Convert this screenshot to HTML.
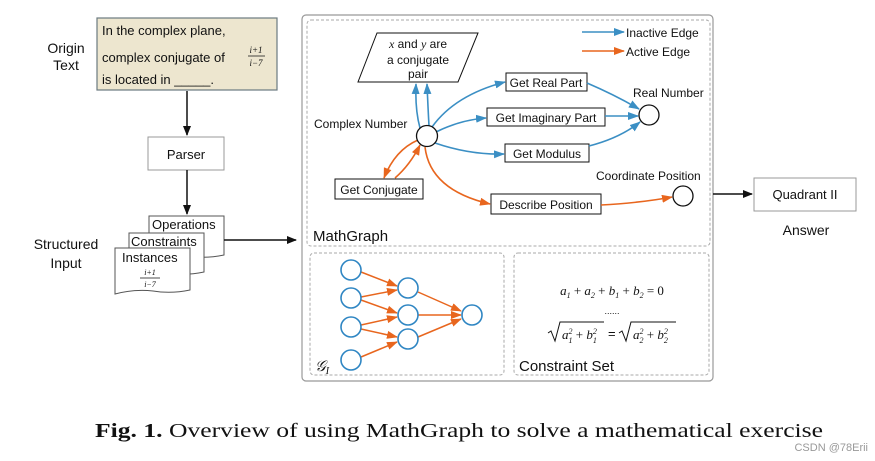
<!DOCTYPE html>
<html><head><meta charset="utf-8"><style>
html,body{margin:0;padding:0;background:#fff;width:875px;height:461px;overflow:hidden}
svg{display:block}
.s{font-family:"Liberation Sans","DejaVu Sans",sans-serif;fill:#111}
.m{font-family:"Liberation Serif","DejaVu Serif",serif;font-style:italic;fill:#111}
</style></head><body>
<svg width="875" height="461" viewBox="0 0 875 461" xmlns="http://www.w3.org/2000/svg">
<defs>
<marker id="ak" markerWidth="10" markerHeight="8" refX="9" refY="4" orient="auto" markerUnits="userSpaceOnUse"><path d="M0,0 L10,4 L0,8 z" fill="#111"/></marker>
<marker id="ab" markerWidth="11" markerHeight="8" refX="10" refY="4" orient="auto" markerUnits="userSpaceOnUse"><path d="M0,0 L11,4 L0,8 z" fill="#3b8fc4"/></marker>
<marker id="ao" markerWidth="11" markerHeight="8" refX="10" refY="4" orient="auto" markerUnits="userSpaceOnUse"><path d="M0,0 L11,4 L0,8 z" fill="#e8661e"/></marker>
</defs>

<!-- left column -->
<text class="s" x="66" y="53" font-size="14" text-anchor="middle">Origin</text>
<text class="s" x="66" y="70" font-size="14" text-anchor="middle">Text</text>
<rect x="97" y="18" width="180" height="72" fill="#ede6cf" stroke="#6b7a80" stroke-width="1.2"/>
<text class="s" x="102" y="35" font-size="13">In the complex plane,</text>
<text class="s" x="102" y="62" font-size="13">complex conjugate of</text>
<text class="m" x="256" y="53" font-size="9" text-anchor="middle">i+1</text>
<line x1="248" y1="56" x2="265" y2="56" stroke="#111" stroke-width="0.7"/>
<text class="m" x="256" y="66" font-size="9" text-anchor="middle">i−7</text>
<text class="s" x="102" y="84" font-size="13">is located in _____.</text>
<line x1="187" y1="91" x2="187" y2="135" stroke="#111" stroke-width="1.5" marker-end="url(#ak)"/>
<rect x="148" y="137" width="76" height="33" fill="#fff" stroke="#999"/>
<text class="s" x="186" y="159" font-size="13" text-anchor="middle">Parser</text>
<line x1="187" y1="170" x2="187" y2="214" stroke="#111" stroke-width="1.5" marker-end="url(#ak)"/>
<path d="M149,216 H224 V255 Q205,259 187,256 Q168,254 149,258 Z" fill="#fff" stroke="#555"/>
<text class="s" x="152" y="229" font-size="13">Operations</text>
<path d="M129,233 H204 V272 Q185,276 167,273 Q148,271 129,275 Z" fill="#fff" stroke="#555"/>
<text class="s" x="131" y="246" font-size="13">Constraints</text>
<path d="M115,248 H190 V290 Q171,294 153,291 Q134,289 115,294 Z" fill="#fff" stroke="#555"/>
<text class="s" x="122" y="262" font-size="13">Instances</text>
<text class="m" x="150" y="275" font-size="8" text-anchor="middle">i+1</text>
<line x1="140" y1="278" x2="160" y2="278" stroke="#111" stroke-width="0.7"/>
<text class="m" x="150" y="287" font-size="8" text-anchor="middle">i−7</text>
<text class="s" x="66" y="249" font-size="14" text-anchor="middle">Structured</text>
<text class="s" x="66" y="268" font-size="14" text-anchor="middle">Input</text>
<line x1="224" y1="240" x2="296" y2="240" stroke="#111" stroke-width="1.5" marker-end="url(#ak)"/>

<!-- main panel -->
<rect x="302" y="15" width="411" height="366" rx="4" fill="#fff" stroke="#999" stroke-width="1.2"/>
<rect x="307" y="20" width="403" height="226" rx="4" fill="none" stroke="#aaa" stroke-dasharray="3,2"/>
<rect x="310" y="253" width="194" height="122" rx="4" fill="none" stroke="#aaa" stroke-dasharray="3,2"/>
<rect x="514" y="253" width="195" height="122" rx="4" fill="none" stroke="#aaa" stroke-dasharray="3,2"/>

<!-- legend -->
<line x1="582" y1="32" x2="624" y2="32" stroke="#3b8fc4" stroke-width="1.6" marker-end="url(#ab)"/>
<text class="s" x="626" y="37" font-size="12">Inactive Edge</text>
<line x1="582" y1="51" x2="624" y2="51" stroke="#e8661e" stroke-width="1.6" marker-end="url(#ao)"/>
<text class="s" x="626" y="56" font-size="12">Active Edge</text>

<!-- parallelogram -->
<polygon points="377,33 478,33 458,82 358,82" fill="#fff" stroke="#111"/>
<text class="s" x="418" y="48" font-size="12" text-anchor="middle"><tspan class="m">x</tspan> and <tspan class="m">y</tspan> are</text>
<text class="s" x="418" y="64" font-size="12" text-anchor="middle">a conjugate</text>
<text class="s" x="418" y="78" font-size="12" text-anchor="middle">pair</text>

<!-- boxes -->
<rect x="506" y="73" width="81" height="18" fill="#fff" stroke="#111"/>
<text class="s" x="546" y="87" font-size="12" text-anchor="middle">Get Real Part</text>
<rect x="487" y="108" width="118" height="18" fill="#fff" stroke="#111"/>
<text class="s" x="546" y="122" font-size="12" text-anchor="middle">Get Imaginary Part</text>
<rect x="505" y="144" width="84" height="18" fill="#fff" stroke="#111"/>
<text class="s" x="547" y="158" font-size="12" text-anchor="middle">Get Modulus</text>
<rect x="335" y="179" width="88" height="20" fill="#fff" stroke="#111"/>
<text class="s" x="379" y="194" font-size="12" text-anchor="middle">Get Conjugate</text>
<rect x="491" y="194" width="110" height="20" fill="#fff" stroke="#111"/>
<text class="s" x="546" y="209" font-size="12" text-anchor="middle">Describe Position</text>

<!-- edges -->
<g fill="none" stroke-width="1.6">
<path d="M420,128 Q415,110 416,84" stroke="#3b8fc4" marker-end="url(#ab)"/>
<path d="M429,126 Q428,108 427,84" stroke="#3b8fc4" marker-end="url(#ab)"/>
<path d="M432,127 Q455,95 505,82" stroke="#3b8fc4" marker-end="url(#ab)"/>
<path d="M436,132 Q460,120 486,118" stroke="#3b8fc4" marker-end="url(#ab)"/>
<path d="M435,143 Q470,155 504,154" stroke="#3b8fc4" marker-end="url(#ab)"/>
<path d="M587,83 Q615,95 639,109" stroke="#3b8fc4" marker-end="url(#ab)"/>
<path d="M605,116 Q620,116 638,116" stroke="#3b8fc4" marker-end="url(#ab)"/>
<path d="M589,146 Q620,138 640,122" stroke="#3b8fc4" marker-end="url(#ab)"/>
<path d="M418,140 Q395,150 384,178" stroke="#e8661e" marker-end="url(#ao)"/>
<path d="M395,178 Q410,165 420,145" stroke="#e8661e" marker-end="url(#ao)"/>
<path d="M425,147 Q430,190 490,204" stroke="#e8661e" marker-end="url(#ao)"/>
<path d="M601,205 Q640,203 672,197" stroke="#e8661e" marker-end="url(#ao)"/>
</g>
<circle cx="427" cy="136" r="10.5" fill="#fff" stroke="#111" stroke-width="1.3"/>
<circle cx="649" cy="115" r="10" fill="#fff" stroke="#111" stroke-width="1.3"/>
<circle cx="683" cy="196" r="10" fill="#fff" stroke="#111" stroke-width="1.3"/>
<text class="s" x="314" y="128" font-size="12">Complex Number</text>
<text class="s" x="633" y="97" font-size="12">Real Number</text>
<text class="s" x="596" y="180" font-size="12">Coordinate Position</text>
<text class="s" x="313" y="241" font-size="15">MathGraph</text>

<!-- G_I -->
<g stroke="#e8661e" stroke-width="1.5" marker-end="url(#ao)">
<line x1="361" y1="272" x2="397" y2="286"/>
<line x1="361" y1="297" x2="397" y2="290"/>
<line x1="361" y1="300" x2="397" y2="313"/>
<line x1="361" y1="325" x2="397" y2="317"/>
<line x1="361" y1="329" x2="397" y2="337"/>
<line x1="361" y1="357" x2="397" y2="342"/>
<line x1="418" y1="292" x2="461" y2="311"/>
<line x1="418" y1="315" x2="461" y2="315"/>
<line x1="418" y1="337" x2="461" y2="319"/>
</g>
<g fill="#fff" stroke="#2f86c3" stroke-width="1.6">
<circle cx="351" cy="270" r="10"/><circle cx="351" cy="298" r="10"/><circle cx="351" cy="327" r="10"/><circle cx="351" cy="360" r="10"/>
<circle cx="408" cy="288" r="10"/><circle cx="408" cy="315" r="10"/><circle cx="408" cy="339" r="10"/>
<circle cx="472" cy="315" r="10"/>
</g>
<text class="m" x="315" y="371" font-size="15">𝒢<tspan font-size="10" dy="3">I</tspan></text>

<!-- constraints -->
<text class="m" x="612" y="295" font-size="13" text-anchor="middle">a<tspan font-size="8" dy="3">1</tspan><tspan dy="-3" font-style="normal"> + </tspan>a<tspan font-size="8" dy="3">2</tspan><tspan dy="-3" font-style="normal"> + </tspan>b<tspan font-size="8" dy="3">1</tspan><tspan dy="-3" font-style="normal"> + </tspan>b<tspan font-size="8" dy="3">2</tspan><tspan dy="-3" font-style="normal"> = 0</tspan></text>
<text class="s" x="612" y="314" font-size="9" text-anchor="middle">......</text>
<path d="M548,333 L551,331 L555,341 L560,322 H604" fill="none" stroke="#111" stroke-width="1"/>
<text class="m" x="562" y="339" font-size="13">a<tspan font-size="8" dy="-5">2</tspan><tspan font-size="8" dx="-4" dy="9">1</tspan><tspan dy="-4" font-style="normal"> + </tspan>b<tspan font-size="8" dy="-5">2</tspan><tspan font-size="8" dx="-4" dy="9">1</tspan></text>
<text class="s" x="608" y="338" font-size="13">=</text>
<path d="M619,333 L622,331 L626,341 L631,322 H676" fill="none" stroke="#111" stroke-width="1"/>
<text class="m" x="633" y="339" font-size="13">a<tspan font-size="8" dy="-5">2</tspan><tspan font-size="8" dx="-4" dy="9">2</tspan><tspan dy="-4" font-style="normal"> + </tspan>b<tspan font-size="8" dy="-5">2</tspan><tspan font-size="8" dx="-4" dy="9">2</tspan></text>
<text class="s" x="519" y="371" font-size="15">Constraint Set</text>

<!-- answer -->
<line x1="713" y1="194" x2="752" y2="194" stroke="#111" stroke-width="1.5" marker-end="url(#ak)"/>
<rect x="754" y="178" width="102" height="33" fill="#fff" stroke="#999"/>
<text class="s" x="805" y="199" font-size="13" text-anchor="middle">Quadrant II</text>
<text class="s" x="806" y="235" font-size="14" text-anchor="middle">Answer</text>

<!-- caption -->
<text x="95" y="437" font-family="Liberation Serif,DejaVu Serif,serif" font-size="20" fill="#111" textLength="728" lengthAdjust="spacingAndGlyphs"><tspan font-weight="bold">Fig. 1.</tspan> Overview of using MathGraph to solve a mathematical exercise</text>
<text class="s" x="868" y="451" font-size="11" style="fill:#999" text-anchor="end">CSDN @78Erii</text>
</svg>
</body></html>
